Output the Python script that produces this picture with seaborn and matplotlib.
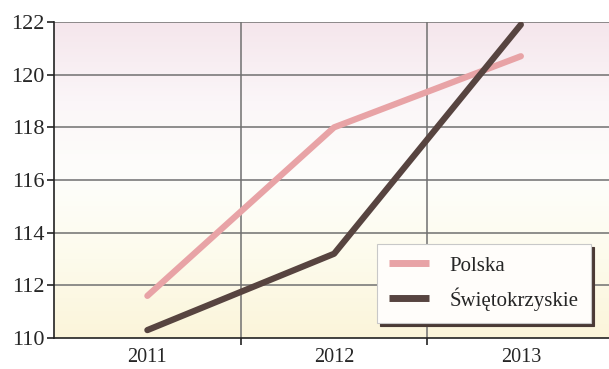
import numpy as np
import pandas as pd
import matplotlib
matplotlib.use("Agg")
import matplotlib.pyplot as plt
import seaborn as sns
from matplotlib.colors import LinearSegmentedColormap

years = ["2011", "2012", "2013"]
polska = [111.6, 118.0, 120.7]
swietokrzyskie = [110.3, 113.2, 121.9]
series_names = ["Polska", "Świętokrzyskie"]
colors = ["#E8A3A6", "#574440"]

df = pd.DataFrame({
    "rok": years * 2,
    "wartosc": polska + swietokrzyskie,
    "seria": [series_names[0]] * 3 + [series_names[1]] * 3,
})

sns.set_style("white")
plt.rcParams["font.family"] = ["Liberation Serif", "DejaVu Serif"]

fig = plt.figure(figsize=(6.09, 3.69), dpi=100)
ax = fig.add_axes([54 / 609, 1 - 338 / 369, 1 - 54 / 609, (338 - 22) / 369])

# background gradient: pink at top, white in middle, yellow at bottom
cmap = LinearSegmentedColormap.from_list(
    "bg", ["#FBF5DA", "#FDFBEC", "#FEFEFB", "#FBF6F8", "#F5E6EC"])
grad = np.linspace(0, 1, 256).reshape(-1, 1)
ax.imshow(grad, aspect="auto", cmap=cmap, origin="lower",
          extent=[0, 1, 0, 1], transform=ax.transAxes, zorder=0)

sns.lineplot(data=df, x="rok", y="wartosc", hue="seria", palette=colors,
             linewidth=4.5, ax=ax, zorder=3, sort=False)

ax.set_xlim(-0.5, 2.472)
ax.set_ylim(110, 122)
ax.set_yticks(range(110, 123, 2))
ax.set_xticks([0, 1, 2])
ax.set_xticklabels(years)
ax.set_xticks([0.5, 1.5], minor=True)
ax.set_xlabel("")
ax.set_ylabel("")

ax.grid(False)
for y in range(112, 123, 2):
    ax.axhline(y, color="#707070", lw=1.1, zorder=1)
for x in [0.5, 1.5]:
    ax.axvline(x, color="#707070", lw=1.1, zorder=1)

for s in ["top", "right"]:
    ax.spines[s].set_visible(False)
for s in ["left", "bottom"]:
    ax.spines[s].set_color("#222222")
    ax.spines[s].set_linewidth(1.2)
    ax.spines[s].set_zorder(4)

ax.tick_params(axis="y", which="major", direction="out", length=5, width=1.2,
               color="#222222", labelsize=16, pad=2, left=True)
ax.tick_params(axis="x", which="major", length=0, labelsize=14.5, pad=7,
               bottom=True)
ax.tick_params(axis="x", which="minor", direction="out", length=5, width=1.2,
               color="#222222", bottom=True)

leg = ax.legend(loc="lower right", bbox_to_anchor=(0.968, 0.047), fontsize=15,
                frameon=True, fancybox=False,
                shadow={"color": "#4a3a35", "alpha": 1, "ox": 2.2, "oy": -2.2},
                handlelength=1.9, borderpad=0.6, labelspacing=0.55,
                handletextpad=1.0, borderaxespad=0)
leg.get_frame().set_facecolor("#FFFDFA")
leg.get_frame().set_edgecolor("#c8c8c8")
leg.get_frame().set_linewidth(0.8)
for line in leg.get_lines():
    line.set_linewidth(5)
    line.set_solid_capstyle("butt")

fig.savefig("out.png", dpi=100)
